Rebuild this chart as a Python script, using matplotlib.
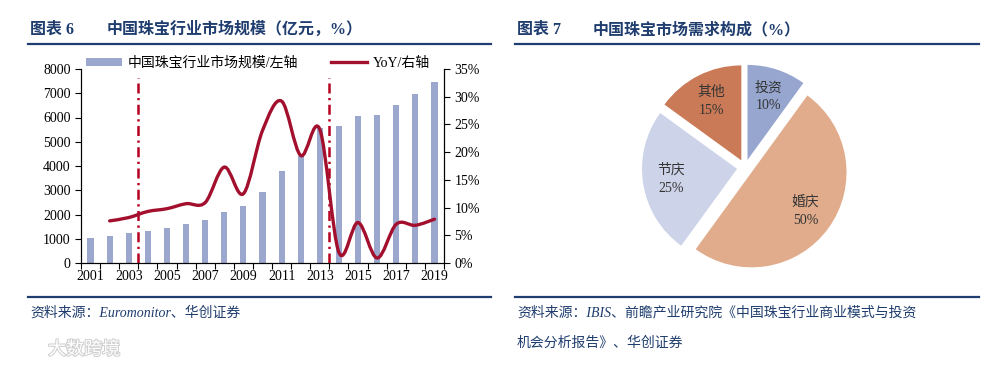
import matplotlib
matplotlib.use("Agg")
import matplotlib.pyplot as plt
import matplotlib.patheffects as pe
from matplotlib.path import Path
from matplotlib.patches import PathPatch, Patch
from matplotlib.lines import Line2D
import numpy as np

plt.rcParams["font.family"] = ["Liberation Serif", "Noto Sans CJK SC"]
plt.rcParams["axes.unicode_minus"] = False

# ---- datos del gráfico izquierdo ----
anios = list(range(2001, 2020))
escala = [1040, 1125, 1220, 1330, 1455, 1620, 1785, 2100, 2360, 2940,
          3790, 4400, 5550, 5650, 6060, 6100, 6510, 6950, 7470]
anios_yoy = list(range(2002, 2020))
yoy = [7.6, 8.2, 9.3, 9.8, 10.7, 10.9, 17.3, 12.5, 23.9, 29.2,
       19.4, 24.1, 1.9, 7.3, 0.9, 7.0, 6.8, 7.9]
cortes = [2003.5, 2013.5]

# ---- datos del gráfico de pastel ----
categorias = ["投资", "婚庆", "节庆", "其他"]
porcentajes = [10, 50, 25, 15]

AZUL_TIT = "#1F3D6E"
COLOR_BAR = "#9CA7CE"
COLOR_YOY = "#A3102E"
COLOR_CORTE = "#B5001F"
colores_pie = ["#96A6CF", "#E1AC8C", "#CDD3E8", "#CB7A58"]

W, H = 988, 368
fig = plt.figure(figsize=(W / 100, H / 100), dpi=100)


def fx(px):
    return px / W


def fy(py):
    return 1 - py / H


# ---- títulos y líneas ----
for x0, x1, num, titulo, xt in [(28, 491, "图表 6", "中国珠宝行业市场规模（亿元，%）", 107),
                                (515, 979, "图表 7", "中国珠宝市场需求构成（%）", 593)]:
    fig.text(fx(x0 + 2), fy(30), num, fontsize=11.5, fontweight="bold",
             color=AZUL_TIT, va="center")
    fig.text(fx(xt), fy(30), titulo, fontsize=11.5, fontweight="bold",
             color=AZUL_TIT, va="center")
    fig.add_artist(Line2D([fx(x0), fx(x1)], [fy(44), fy(44)], color=AZUL_TIT, lw=1.6))
    fig.add_artist(Line2D([fx(x0), fx(x1)], [fy(297), fy(297)], color=AZUL_TIT, lw=1.6))

fig.text(fx(30), fy(313), "资料来源：Euromonitor、华创证券", fontsize=10,
         style="italic", color=AZUL_TIT, va="center")
fig.text(fx(517), fy(313), "资料来源：IBIS、前瞻产业研究院《中国珠宝行业商业模式与投资",
         fontsize=10, style="italic", color=AZUL_TIT, va="center")
fig.text(fx(517), fy(343), "机会分析报告》、华创证券",
         fontsize=10, style="italic", color=AZUL_TIT, va="center")

# marca de agua
fig.text(fx(48), fy(350), "大数跨境", fontsize=13, color="white", va="center",
         path_effects=[pe.withStroke(linewidth=1.5, foreground="#d0d0d0")])

# ---- gráfico izquierdo ----
ax = fig.add_axes([fx(81), fy(263), fx(444 - 81), (263 - 69) / H])
ax.bar(anios, escala, width=0.32, color=COLOR_BAR, zorder=2)
ax.set_xlim(2000.5, 2019.5)
ax.set_ylim(0, 8000)
ax.set_yticks(range(0, 8001, 1000))
ax.set_xticks(np.arange(2000.5, 2020, 1))
ax.set_xticklabels([])
ax.set_xticks(range(2001, 2020, 2), minor=True)
ax.set_xticklabels([str(a) for a in range(2001, 2020, 2)], minor=True)
ax.tick_params(axis="x", which="major", length=4, direction="out")
ax.tick_params(axis="x", which="minor", length=0, pad=5, labelsize=10)
ax.tick_params(axis="y", length=4, direction="out", labelsize=10)
ax.spines["top"].set_visible(False)

for c in cortes:
    ax.plot([c, c], [0, 7630], color=COLOR_CORTE, lw=1.8,
            linestyle=(0, (4, 1.8, 0.9, 1.8)), zorder=3)

ax2 = ax.twinx()
ax2.set_ylim(0, 35)
ax2.set_yticks(range(0, 36, 5))
ax2.set_yticklabels([f"{v}%" for v in range(0, 36, 5)])
ax2.tick_params(axis="y", length=4, direction="out", labelsize=10)
ax2.spines["top"].set_visible(False)

# curva suavizada tipo Excel (Bezier por tramos)
pts = np.column_stack([anios_yoy, yoy]).astype(float)
verts = [pts[0]]
codes = [Path.MOVETO]
n = len(pts)
for i in range(n - 1):
    p0 = pts[i - 1] if i > 0 else pts[i]
    p1, p2 = pts[i], pts[i + 1]
    p3 = pts[i + 2] if i + 2 < n else pts[i + 1]
    verts += [p1 + (p2 - p0) / 6, p2 - (p3 - p1) / 6, p2]
    codes += [Path.CURVE4] * 3
ax2.add_patch(PathPatch(Path(verts, codes), facecolor="none",
                        edgecolor=COLOR_YOY, lw=2.4, zorder=4, capstyle="round"))

handles = [Patch(facecolor=COLOR_BAR, edgecolor="none"),
           Line2D([], [], color=COLOR_YOY, lw=2.4)]
fig.legend(handles, ["中国珠宝行业市场规模/左轴", "YoY/右轴"], ncol=2,
           loc="center left", bbox_to_anchor=(fx(86), fy(63)), frameon=False,
           fontsize=10, handlelength=2.6, handleheight=0.45, handletextpad=0.4,
           columnspacing=2.4, borderpad=0, borderaxespad=0)

# ---- gráfico de pastel ----
cx, cy, lado = 745, 167.6, 240
axp = fig.add_axes([fx(cx - lado / 2), fy(cy + lado / 2), lado / W, lado / H])
etiquetas = [f"{c}\n{p}%" for c, p in zip(categorias, porcentajes)]
wedges, textos = axp.pie(porcentajes, labels=etiquetas, colors=colores_pie,
                         startangle=90, counterclock=False,
                         explode=[0.085] * 4, labeldistance=0.7,
                         wedgeprops=dict(edgecolor="none"),
                         textprops=dict(fontsize=10, color="#333333", linespacing=1.5))
for t in textos:
    t.set_ha("center")
    t.set_va("center")
lim = (lado / 2) / 95
axp.set_xlim(-lim, lim)
axp.set_ylim(-lim, lim)
axp.set_aspect("equal")
axp.axis("off")

fig.savefig("out.png", dpi=100)
